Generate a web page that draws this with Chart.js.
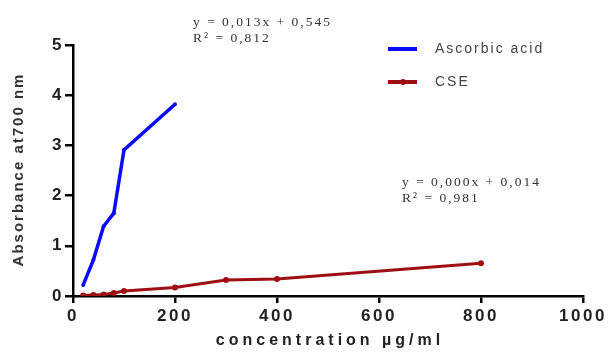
<!DOCTYPE html>
<html>
<head>
<meta charset="utf-8">
<script src="https://cdn.jsdelivr.net/npm/chart.js@4/dist/chart.umd.min.js"></script>
<style>
  html, body { margin: 0; padding: 0; background: #fff; }
  canvas { display: block; }
</style>
</head>
<body>
<canvas id="absorbanceChart" width="610" height="353"></canvas>
<script>
// data
const ascorbicConc = [20, 40, 60, 80, 100, 200];
const ascorbicAbs = [0.22, 0.72, 1.39, 1.65, 2.91, 3.82];
const cseConc = [20, 40, 60, 80, 100, 200, 300, 400, 800];
const cseAbs = [0.01, 0.02, 0.03, 0.06, 0.10, 0.17, 0.32, 0.34, 0.65];
const xTicks = [0, 200, 400, 600, 800, 1000];
const yTicks = [0, 1, 2, 3, 4, 5];
const xTitle = 'concentration \u00b5g/ml';
const yTitle = 'Absorbance at700 nm';
const trendLabels = [
  ['y = 0,013x + 0,545', 'R\u00b2 = 0,812'],
  ['y = 0,000x + 0,014', 'R\u00b2 = 0,981']
];

const SANS = '"Liberation Sans", Arial, sans-serif';
const SERIF = '"Liberation Serif", "Times New Roman", serif';

const toPoints = (xs, ys) => xs.map((x, i) => ({ x: x, y: ys[i] }));

// the original text is stretched wide, so spread the tick labels a bit
const wideTicks = {
  id: 'wideTicks',
  beforeDraw(chart) {
    chart.ctx.letterSpacing = '2.5px';
  }
};

// axis titles, drawn by hand so they can get the same spacing
const axisTitles = {
  id: 'axisTitles',
  afterDraw(chart) {
    const ctx = chart.ctx;
    const area = chart.chartArea;
    ctx.save();
    ctx.fillStyle = '#222';
    ctx.textAlign = 'center';
    ctx.textBaseline = 'middle';
    ctx.font = 'bold 16px ' + SANS;
    ctx.letterSpacing = '4px';
    ctx.fillText(xTitle, (area.left + area.right) / 2 + 2, 341);
    ctx.translate(19, (area.top + area.bottom) / 2);
    ctx.rotate(-Math.PI / 2);
    ctx.fillStyle = '#333';
    ctx.font = 'bold 15px ' + SANS;
    ctx.letterSpacing = '2px';
    ctx.fillText(yTitle, 1, 0);
    ctx.restore();
  }
};

// legend drawn inside the plot, top right, like the original
const insideLegend = {
  id: 'insideLegend',
  afterDraw(chart) {
    const ctx = chart.ctx;
    const area = chart.chartArea;
    const x0 = area.right - 195;
    chart.data.datasets.forEach((ds, i) => {
      const y = area.top + 4 + i * 33;
      ctx.save();
      ctx.strokeStyle = ds.borderColor;
      ctx.lineWidth = 4;
      ctx.beginPath();
      ctx.moveTo(x0, y);
      ctx.lineTo(x0 + 29, y);
      ctx.stroke();
      if (ds.pointRadius > 2) {
        ctx.fillStyle = ds.borderColor;
        ctx.beginPath();
        ctx.arc(x0 + 15, y, 3, 0, Math.PI * 2);
        ctx.fill();
      }
      ctx.fillStyle = '#444';
      ctx.font = '14px ' + SANS;
      ctx.letterSpacing = '2px';
      ctx.textBaseline = 'middle';
      ctx.fillText(ds.label, x0 + 47, y);
      ctx.restore();
    });
  }
};

// regression equations placed as in the picture
const trendText = {
  id: 'trendText',
  afterDraw(chart) {
    const ctx = chart.ctx;
    const area = chart.chartArea;
    const spots = [[area.left + 120, 22], [area.left + 329, 182]];
    ctx.save();
    ctx.fillStyle = '#333';
    ctx.font = '13.5px ' + SERIF;
    ctx.letterSpacing = '2px';
    ctx.textBaseline = 'middle';
    trendLabels.forEach((lines, i) => {
      lines.forEach((t, j) => ctx.fillText(t, spots[i][0], spots[i][1] + j * 16));
    });
    ctx.restore();
  }
};

const tickFont = { family: SANS, size: 17, weight: 'bold' };

new Chart(document.getElementById('absorbanceChart'), {
  type: 'scatter',
  data: {
    datasets: [
      {
        label: 'Ascorbic acid',
        data: toPoints(ascorbicConc, ascorbicAbs),
        showLine: true,
        borderColor: '#0a0aff',
        backgroundColor: '#0a0aff',
        borderWidth: 3.5,
        pointRadius: 2,
        pointBorderWidth: 0
      },
      {
        label: 'CSE',
        data: toPoints(cseConc, cseAbs),
        showLine: true,
        borderColor: '#9e0f14',
        backgroundColor: '#9e0f14',
        borderWidth: 3,
        pointRadius: 3,
        pointBorderWidth: 0
      }
    ]
  },
  options: {
    responsive: false,
    animation: false,
    layout: { padding: { top: 45, right: 27, left: 0, bottom: 0 } },
    plugins: {
      legend: { display: false },
      tooltip: { enabled: false }
    },
    scales: {
      x: {
        type: 'linear',
        min: 0,
        max: 1000,
        afterBuildTicks: s => { s.ticks = xTicks.map(v => ({ value: v })); },
        afterFit: s => { s.height = 57; },
        grid: { drawOnChartArea: false, color: '#000', lineWidth: 2.5, tickLength: 7 },
        border: { color: '#000', width: 2.5 },
        ticks: { color: '#222', font: tickFont, padding: 3, maxRotation: 0, callback: v => String(v) }
      },
      y: {
        type: 'linear',
        min: 0,
        max: 5,
        afterBuildTicks: s => { s.ticks = yTicks.map(v => ({ value: v })); },
        afterFit: s => { s.width = 73; },
        grid: { drawOnChartArea: false, color: '#000', lineWidth: 2.5, tickLength: 8 },
        border: { color: '#000', width: 2.5 },
        ticks: { color: '#222', font: tickFont, padding: 1, callback: v => String(v) }
      }
    }
  },
  plugins: [wideTicks, axisTitles, insideLegend, trendText]
});
</script>
</body>
</html>
